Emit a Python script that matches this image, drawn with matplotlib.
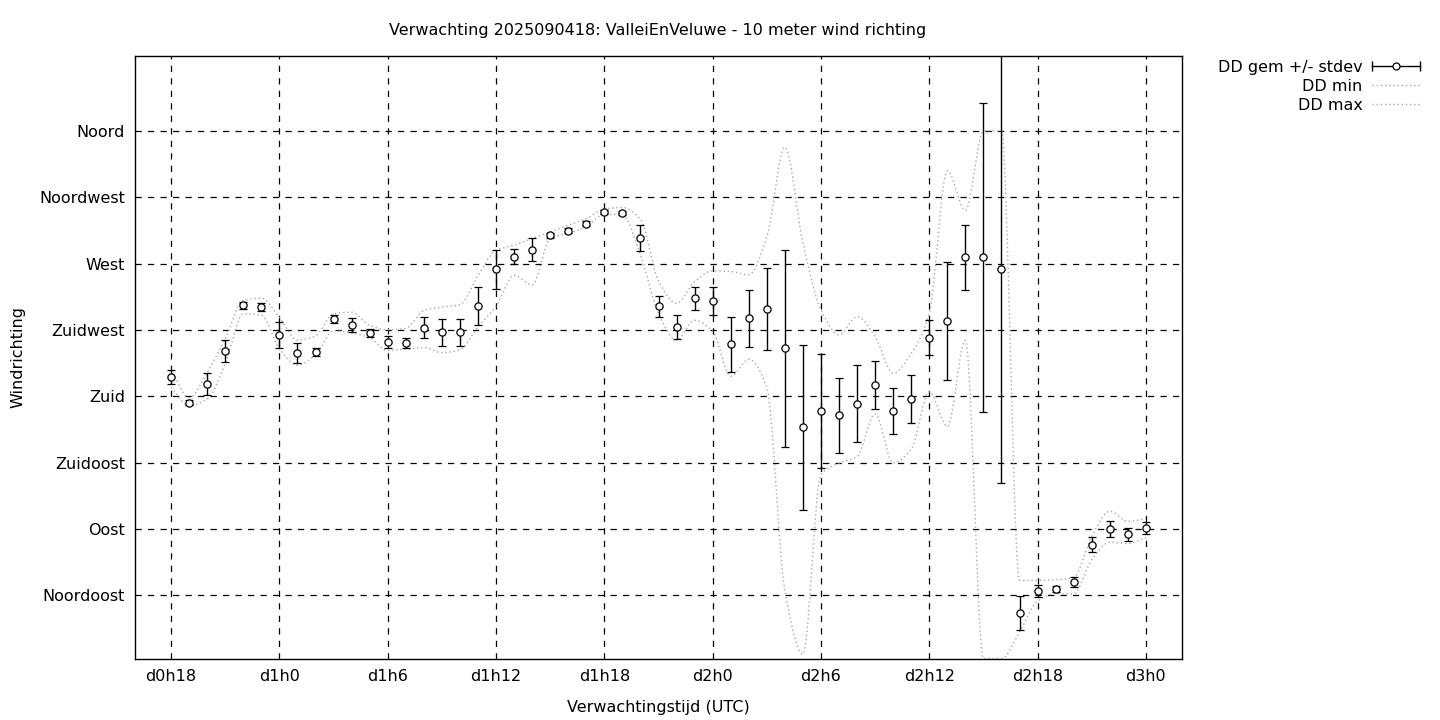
import numpy as np
import matplotlib
matplotlib.use("Agg")
import matplotlib.pyplot as plt
from matplotlib.lines import Line2D
from matplotlib.legend_handler import HandlerBase

plt.rcParams['font.family'] = ['DejaVu Sans']

# ---------------- data ----------------
hours = list(range(18, 73))  # forecast hour (d0h18 = 18 ... d3h0 = 72)

dd_mean = [193.0, 175.7, 188.2, 210.7, 241.8, 240.5, 221.4, 209.3, 210.0, 232.3,
           228.3, 222.8, 216.6, 216.0, 226.4, 223.4, 223.4, 241.1, 266.0, 274.7,
           279.5, 289.1, 292.3, 297.0, 305.1, 304.4, 287.6, 241.0, 227.0, 246.4,
           244.7, 215.3, 232.9, 239.0, 212.6, 158.8, 169.8, 167.1, 175.0, 187.9,
           169.8, 178.4, 219.6, 231.1, 274.1, 274.1, 266.2, 32.8, 47.9, 49.1,
           53.8, 79.2, 90.0, 86.2, 90.7]

dd_std = [4.9, 1.8, 7.5, 7.6, 2.4, 2.8, 8.9, 6.7, 2.5, 2.7,
          4.7, 2.5, 4.0, 3.3, 7.0, 9.3, 9.3, 13.0, 13.0, 5.3,
          8.0, 1.8, 1.8, 1.8, 1.4, 1.4, 8.8, 7.0, 8.3, 7.7,
          9.7, 18.6, 19.2, 28.0, 66.8, 55.8, 38.7, 25.4, 26.0, 16.3,
          15.5, 16.3, 11.8, 39.9, 21.9, 105.0, 145.0, 11.7, 4.0, 1.9,
          3.3, 5.2, 5.6, 4.2, 4.2]

dd_min = [186.0, 173.5, 178.0, 202.0, 236.0, 235.0, 212.0, 201.0, 208.0, 224.5,
          223.0, 219.5, 211.0, 212.0, 213.0, 209.5, 211.5, 227.0, 241.0, 262.0,
          255.5, 287.0, 290.5, 295.0, 303.5, 303.0, 276.0, 236.0, 218.0, 231.5,
          224.0, 193.5, 205.0, 186.0, 48.0, 5.0, 127.0, 134.6, 139.0, 168.0,
          134.6, 144.0, 183.0, 159.5, 218.0, 2.0, 2.0, 20.0, 41.0, 46.0,
          46.0, 69.0, 81.0, 80.0, 84.0]

dd_max = [198.0, 179.0, 196.0, 219.0, 245.0, 246.5, 233.5, 218.0, 221.0, 236.0,
          237.0, 228.0, 225.0, 226.0, 238.0, 240.5, 242.0, 262.0, 279.0, 282.5,
          287.0, 291.5, 296.0, 300.5, 307.0, 308.0, 300.0, 258.0, 243.0, 257.8,
          265.0, 264.6, 262.3, 288.0, 349.0, 284.0, 238.6, 221.6, 234.0, 220.5,
          195.6, 209.0, 236.0, 333.0, 306.0, 360.0, 360.0, 55.0, 55.0, 55.5,
          57.0, 85.0, 102.0, 95.0, 97.0]

xtick_pos = [18, 24, 30, 36, 42, 48, 54, 60, 66, 72]
xtick_labels = ['d0h18', 'd1h0', 'd1h6', 'd1h12', 'd1h18', 'd2h0', 'd2h6', 'd2h12', 'd2h18', 'd3h0']
ytick_pos = [45, 90, 135, 180, 225, 270, 315, 360]
ytick_labels = ['Noordoost', 'Oost', 'Zuidoost', 'Zuid', 'Zuidwest', 'West', 'Noordwest', 'Noord']


# monotone cubic smoothing (like gnuplot "smooth mcsplines") for drawing
def mono_smooth(x, y, n=24):
    x = np.asarray(x, float)
    y = np.asarray(y, float)
    h = np.diff(x)
    d = np.diff(y) / h
    m = np.zeros_like(y)
    for k in range(1, len(y) - 1):
        if d[k - 1] * d[k] > 0:
            m[k] = 2.0 / (1.0 / d[k - 1] + 1.0 / d[k])
    m[0] = d[0]
    m[-1] = d[-1]
    xs, ys = [], []
    for k in range(len(h)):
        t = np.linspace(0, 1, n, endpoint=False)
        h00 = 2 * t**3 - 3 * t**2 + 1
        h10 = t**3 - 2 * t**2 + t
        h01 = -2 * t**3 + 3 * t**2
        h11 = t**3 - t**2
        xs.append(x[k] + t * h[k])
        ys.append(h00 * y[k] + h10 * h[k] * m[k] + h01 * y[k + 1] + h11 * h[k] * m[k + 1])
    xs.append([x[-1]])
    ys.append([y[-1]])
    return np.concatenate(xs), np.concatenate(ys)


class ErrHandler(HandlerBase):
    def create_artists(self, legend, orig_handle, xdescent, ydescent, width, height, fontsize, trans):
        y = height / 2.0 - ydescent
        x0 = -xdescent
        x1 = -xdescent + width
        line = Line2D([x0, x1], [y, y], color='black', lw=1.0)
        caps = Line2D([x0, x1], [y, y], ls='none', marker='|', ms=7, mew=1.0, color='black')
        circ = Line2D([(x0 + x1) / 2.0], [y], ls='none', marker='o', ms=5,
                      mfc='white', mec='black', mew=0.9)
        for a in (line, caps, circ):
            a.set_transform(trans)
        return [line, caps, circ]


FS = 11.5

fig = plt.figure(figsize=(14.4, 7.2), dpi=100)
ax = fig.add_axes([135 / 1440, 1 - 659 / 720, (1182 - 135) / 1440, (659 - 56) / 720])

ax.set_xlim(16, 74)
ax.set_ylim(1.7, 410.8)

# grid
for xv in xtick_pos:
    ax.axvline(xv, color='black', lw=0.9, ls=(0, (5, 5)), zorder=1)
for yv in ytick_pos:
    ax.axhline(yv, color='black', lw=0.9, ls=(0, (5, 5)), zorder=1)

# min / max smooth dotted lines
xs, ys = mono_smooth(hours, dd_min)
ax.plot(xs, ys, color='#a8a8a8', lw=1.0, ls=(0, (1, 2)), zorder=2)
xs, ys = mono_smooth(hours, dd_max)
ax.plot(xs, ys, color='#a8a8a8', lw=1.0, ls=(0, (1, 2)), zorder=2)

# mean +/- stdev
ax.errorbar(hours, dd_mean, yerr=dd_std, fmt='o', ms=5.2, mfc='white', mec='black', mew=0.9,
            ecolor='black', elinewidth=1.0, capsize=3, capthick=1.0, color='black', zorder=3)

ax.set_xticks(xtick_pos)
ax.set_xticklabels(xtick_labels)
ax.set_yticks(ytick_pos)
ax.set_yticklabels(ytick_labels)
ax.tick_params(axis='both', direction='in', length=0, labelsize=FS, colors='black')
ax.tick_params(axis='y', pad=7.2)
ax.tick_params(axis='x', pad=7.5)
for s in ax.spines.values():
    s.set_linewidth(1.0)
    s.set_color('black')

ax.set_xlabel('Verwachtingstijd (UTC)', fontsize=FS, labelpad=11.5)
ax.set_ylabel('Windrichting', fontsize=FS, labelpad=10)
fig.text(658 / 1440, 1 - 30 / 720, 'Verwachting 2025090418: ValleiEnVeluwe - 10 meter wind richting',
         ha='center', va='center', fontsize=FS)

h_err = Line2D([], [], color='black')
h_min = Line2D([], [], color='#a8a8a8', lw=1.0, ls=(0, (1, 2)))
h_max = Line2D([], [], color='#a8a8a8', lw=1.0, ls=(0, (1, 2)))
fig.legend([h_err, h_min, h_max], ['DD gem +/- stdev', 'DD min', 'DD max'],
           loc='upper right', bbox_to_anchor=(1420 / 1440, 1 - 60 / 720),
           bbox_transform=fig.transFigure, frameon=False, markerfirst=False,
           alignment='right', fontsize=FS, borderpad=0, borderaxespad=0,
           handlelength=3.0, handletextpad=0.6, labelspacing=0.25,
           handler_map={h_err: ErrHandler()})

fig.savefig('out.png', dpi=100)
